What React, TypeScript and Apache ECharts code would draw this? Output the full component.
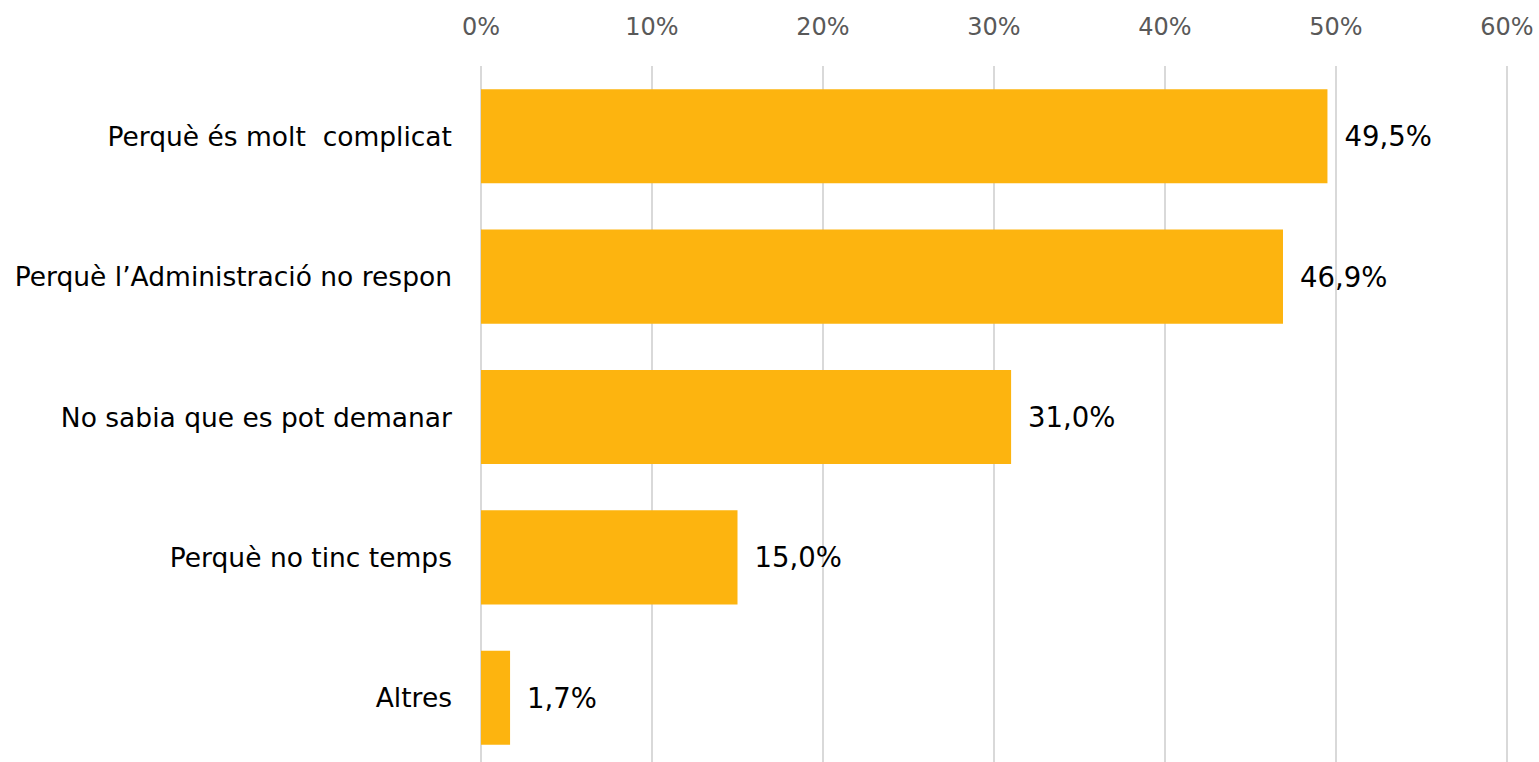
import React, { useEffect, useRef } from "react";
import * as echarts from "echarts";

const categories = [
  "Perquè és molt  complicat",
  "Perquè l’Administració no respon",
  "No sabia que es pot demanar",
  "Perquè no tinc temps",
  "Altres",
];
const values = [49.5, 46.9, 31.0, 15.0, 1.7];
const xTicks = [0, 10, 20, 30, 40, 50, 60];

const FONT = "'DejaVu Sans', sans-serif";

export default function App() {
  const ref = useRef<HTMLDivElement>(null);
  useEffect(() => {
    if (!ref.current) return;
    const chart = echarts.init(ref.current, null, { renderer: "svg" });
    chart.setOption({
      animation: false,
      grid: { left: 481, right: 32, top: 66, bottom: 12, containLabel: false },
      xAxis: {
        type: "value",
        position: "top",
        min: xTicks[0],
        max: xTicks[xTicks.length - 1],
        interval: 10,
        axisLine: { show: false },
        axisTick: { show: false },
        splitLine: { show: true, lineStyle: { color: "#d9d9d9", width: 2 } },
        axisLabel: {
          formatter: (v: number) => `${v}%`,
          color: "#595959",
          fontSize: 24,
          fontFamily: FONT,
          margin: 27,
        },
      },
      yAxis: {
        type: "category",
        inverse: true,
        data: categories,
        axisLine: { show: false },
        axisTick: { show: false },
        axisLabel: {
          color: "#000000",
          fontSize: 26.5,
          fontFamily: FONT,
          margin: 29,
        },
      },
      series: [
        {
          type: "bar",
          data: values,
          barCategoryGap: "33%",
          itemStyle: { color: "#FDB40F" },
          label: {
            show: true,
            position: "right",
            distance: 17,
            color: "#000000",
            fontSize: 27.5,
            fontFamily: FONT,
            formatter: (p: any) => `${p.value.toFixed(1).replace(".", ",")}%`,
          },
        },
      ],
    });
    return () => chart.dispose();
  }, []);
  return (
    <div style={{ position: "fixed", left: 0, top: 0, width: 1539, height: 762, overflow: "hidden", background: "#fff" }}>
      <div ref={ref} style={{ width: 1539, height: 780 }} />
    </div>
  );
}
